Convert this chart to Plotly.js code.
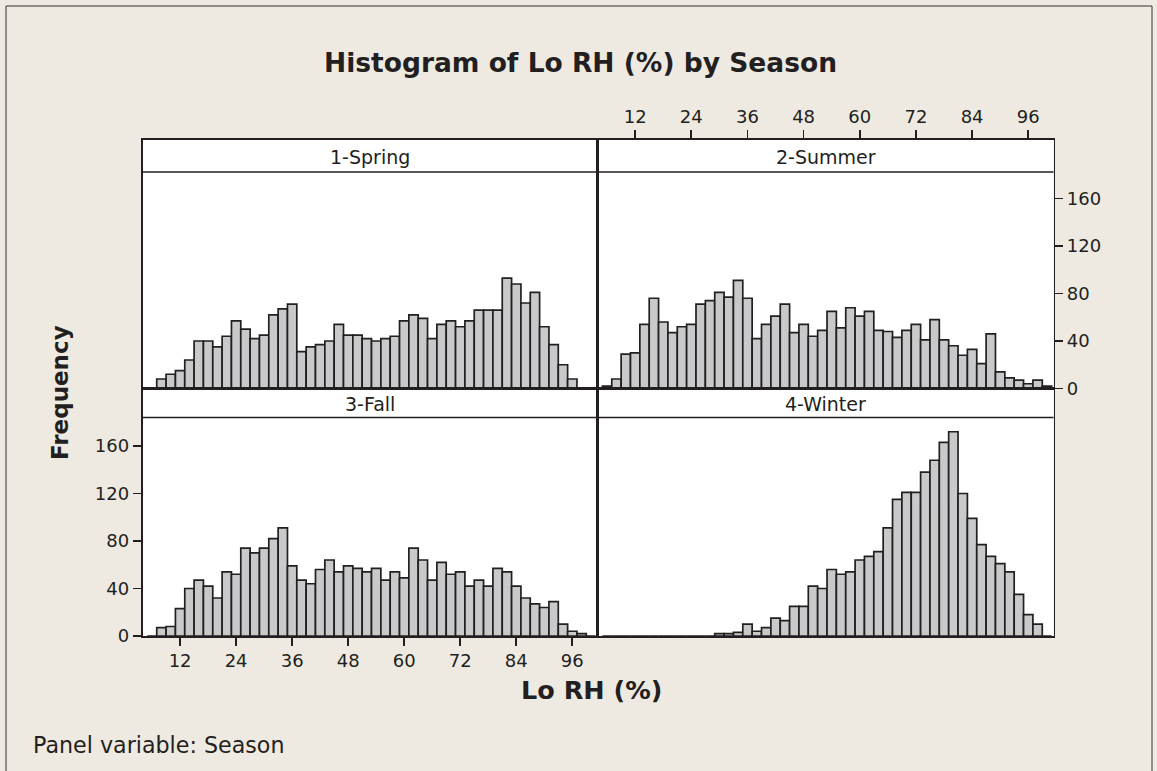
<!DOCTYPE html>
<html><head><meta charset="utf-8">
<script src="https://cdn.plot.ly/plotly-3.0.1.min.js"></script>
<style>html,body{margin:0;padding:0;background:#EEEAE1}</style>
</head><body><div id="chart" style="width:1157px;height:771px"></div>
<script>
// Bin centres (bin width 2) for Lo RH (%)
const bins = [6,8,10,12,14,16,18,20,22,24,26,28,30,32,34,36,38,40,42,44,46,48,50,52,
              54,56,58,60,62,64,66,68,70,72,74,76,78,80,82,84,86,88,90,92,94,96,98,100];
const spring = [0,8,12,15,24,40,40,35,44,57,50,42,45,62,67,71,31,35,37,40,54,45,45,42,
                40,42,44,57,62,59,42,54,57,52,57,66,66,66,93,88,72,81,52,37,20,8,0,0];
const summer = [2,8,29,30,54,76,56,47,52,54,71,74,81,77,91,76,42,54,61,71,47,54,44,49,
                65,51,68,61,65,49,48,43,49,54,41,58,41,36,28,33,21,46,14,9,7,4,7,2];
const fall   = [0,7,8,23,40,47,42,32,54,52,74,70,74,82,91,59,47,44,56,64,54,59,57,54,
                57,47,54,49,74,64,47,62,52,54,42,47,42,57,54,42,32,27,24,29,10,4,2,0];
const winter = [0,0,0,0,0,0,0,0,0,0,0,0,2,2,3,10,4,7,15,13,25,25,42,40,
                56,52,54,64,67,71,91,115,121,121,138,148,163,172,120,99,77,67,61,54,35,18,10,0];
const panelNames = ["1-Spring","2-Summer","3-Fall","4-Winter"];
const xTicks = [12,24,36,48,60,72,84,96];
const yTicks = [0,40,80,120,160];

const W = 1157, H = 771;
const px = x => x / W;
const py = y => 1 - y / H;
const FONT = "DejaVu Sans, Verdana, sans-serif";
const INK = "#231f20";

// pixel geometry of panels
const L = 142.5, M = 597.5, R = 1053.5;
const T = 140, S1 = 172, B1 = 388.5, S2 = 417.5, B2 = 636;
const yScale = 1.1875; // px per count
const xRange = [3.95, 101.4];

function barTrace(vals, xa, ya) {
  return {
    type: "bar", x: bins, y: vals, width: 2, xaxis: xa, yaxis: ya,
    marker: {color: "#c8c9cb", line: {color: INK, width: 1.7}},
    hoverinfo: "x+y", showlegend: false
  };
}

const data = [
  barTrace(spring, "x", "y"),
  barTrace(summer, "x2", "y2"),
  barTrace(fall, "x3", "y3"),
  barTrace(winter, "x4", "y4")
];

const TICKFONT = {family: FONT, size: 18, color: INK};
const baseX = {
  range: xRange, showgrid: false, zeroline: false, showline: true, mirror: true,
  linecolor: INK, linewidth: 1.7, fixedrange: true,
  tickfont: TICKFONT, tickcolor: INK, ticklen: 8, tickwidth: 1.7
};
const baseY = {
  showgrid: false, zeroline: false, showline: true, mirror: true,
  linecolor: INK, linewidth: 1.7, fixedrange: true,
  tickfont: TICKFONT, tickcolor: INK, ticklen: 8, tickwidth: 1.7
};
const topRange = [0, (B1 - T) / yScale];
const botRange = [0, (B2 - B1) / yScale];

const stripFont = {family: FONT, size: 19, color: INK};

const layout = {
  width: W, height: H,
  margin: {l: 0, r: 0, t: 0, b: 0},
  paper_bgcolor: "#EEEAE1", plot_bgcolor: "#ffffff",
  bargap: 0, showlegend: false,
  font: {family: FONT, color: INK},
  xaxis:  Object.assign({}, baseX, {domain: [px(L), px(M)], anchor: "y", showticklabels: false, ticks: ""}),
  xaxis2: Object.assign({}, baseX, {domain: [px(M), px(R)], anchor: "y2", side: "top", ticks: "outside", tickvals: xTicks}),
  xaxis3: Object.assign({}, baseX, {domain: [px(L), px(M)], anchor: "y3", side: "bottom", ticks: "outside", tickvals: xTicks}),
  xaxis4: Object.assign({}, baseX, {domain: [px(M), px(R)], anchor: "y4", showticklabels: false, ticks: ""}),
  yaxis:  Object.assign({}, baseY, {domain: [py(B1), py(T)], anchor: "x", range: topRange, showticklabels: false, ticks: ""}),
  yaxis2: Object.assign({}, baseY, {domain: [py(B1), py(T)], anchor: "x2", range: topRange, side: "right", ticks: "outside", tickvals: yTicks}),
  yaxis3: Object.assign({}, baseY, {domain: [py(B2), py(B1)], anchor: "x3", range: botRange, side: "left", ticks: "outside", tickvals: yTicks}),
  yaxis4: Object.assign({}, baseY, {domain: [py(B2), py(B1)], anchor: "x4", range: botRange, showticklabels: false, ticks: ""}),
  shapes: [
    {type: "line", xref: "paper", yref: "paper", x0: px(L), x1: px(R), y0: py(S1), y1: py(S1), line: {color: INK, width: 1.7}},
    {type: "line", xref: "paper", yref: "paper", x0: px(L), x1: px(R), y0: py(S2), y1: py(S2), line: {color: INK, width: 1.7}},
    {type: "rect", xref: "paper", yref: "paper", x0: px(6), x1: px(1152), y0: py(780), y1: py(6), line: {color: "#333", width: 1}, layer: "below"}
  ],
  annotations: [
    {text: "<b>Histogram of Lo RH (%) by Season</b>", xref: "paper", yref: "paper", x: px(580), y: py(62),
     showarrow: false, xanchor: "center", yanchor: "middle", font: {family: FONT, size: 26.5, color: INK}},
    {text: "<b>Frequency</b>", xref: "paper", yref: "paper", x: px(60), y: py(393), textangle: -90,
     showarrow: false, xanchor: "center", yanchor: "middle", font: {family: FONT, size: 23, color: INK}},
    {text: "<b>Lo RH (%)</b>", xref: "paper", yref: "paper", x: px(591), y: py(690),
     showarrow: false, xanchor: "center", yanchor: "middle", font: {family: FONT, size: 25.5, color: INK}},
    {text: "Panel variable: Season", xref: "paper", yref: "paper", x: px(31), y: py(745),
     showarrow: false, xanchor: "left", yanchor: "middle", font: {family: FONT, size: 22.2, color: INK}},
    {text: panelNames[0], xref: "paper", yref: "paper", x: px((L + M) / 2), y: py((T + S1) / 2 + 1), showarrow: false,
     xanchor: "center", yanchor: "middle", font: stripFont},
    {text: panelNames[1], xref: "paper", yref: "paper", x: px((M + R) / 2), y: py((T + S1) / 2 + 1), showarrow: false,
     xanchor: "center", yanchor: "middle", font: stripFont},
    {text: panelNames[2], xref: "paper", yref: "paper", x: px((L + M) / 2), y: py((B1 + S2) / 2 + 1), showarrow: false,
     xanchor: "center", yanchor: "middle", font: stripFont},
    {text: panelNames[3], xref: "paper", yref: "paper", x: px((M + R) / 2), y: py((B1 + S2) / 2 + 1), showarrow: false,
     xanchor: "center", yanchor: "middle", font: stripFont}
  ]
};

Plotly.newPlot("chart", data, layout, {displayModeBar: false, staticPlot: true});
</script>
</body></html>
